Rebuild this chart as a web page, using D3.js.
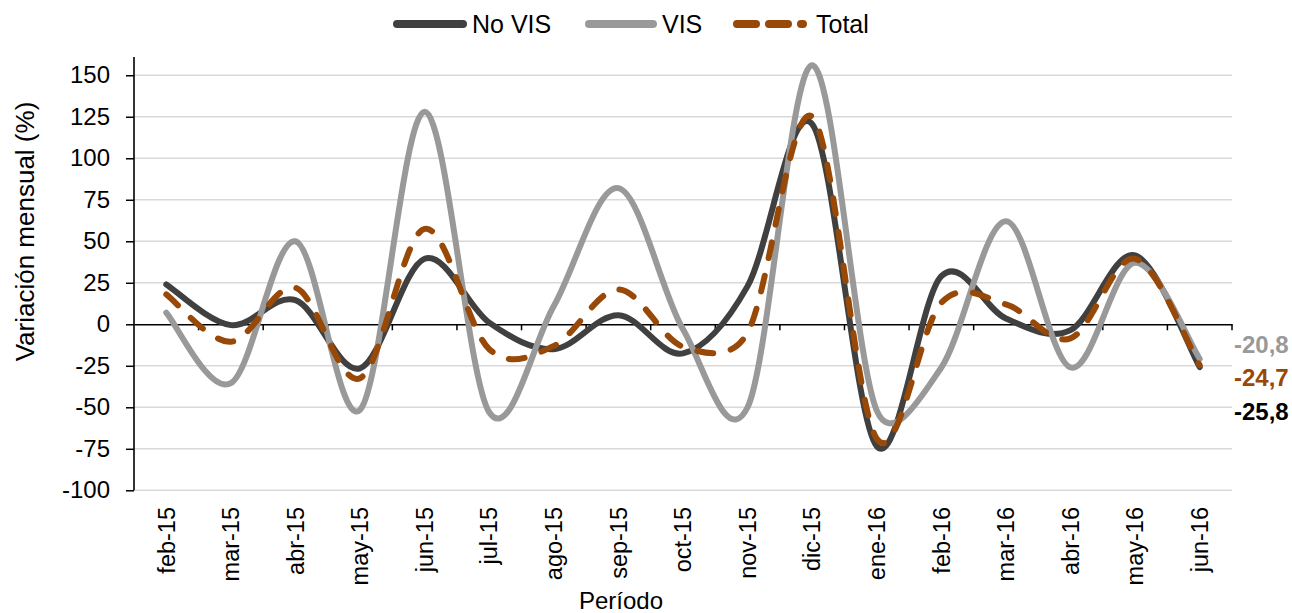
<!DOCTYPE html>
<html>
<head>
<meta charset="utf-8">
<script src="https://cdn.jsdelivr.net/npm/d3@7"></script>
<style>
  html, body { margin: 0; padding: 0; background: #fff; }
  svg { display: block; font-family: "Liberation Sans", Arial, sans-serif; }
</style>
</head>
<body>
<svg id="chart" width="1292" height="613"></svg>
<script>
// ---- Data ----
const categories = ["feb-15","mar-15","abr-15","may-15","jun-15","jul-15","ago-15","sep-15","oct-15","nov-15","dic-15","ene-16","feb-16","mar-16","abr-16","may-16","jun-16"];
const noVis = [24, -0.5, 14.5, -26.5, 39.5, 1, -15, 5.5, -17.5, 23, 120.5, -73.5, 29, 3.5, -3.5, 41.5, -25.8];
const vis   = [7, -35.5, 50, -51.5, 128, -53, 11, 82, -3, -50, 156, -52, -26, 62, -26, 37, -20.8];
const total = [18, -10.5, 22, -32.5, 57.5, -15, -13, 21, -13.5, -5, 125, -69, 13, 12, -8.5, 39.5, -24.7];
const yTicks = [-100, -75, -50, -25, 0, 25, 50, 75, 100, 125, 150];
const seriesNames = ["No VIS", "VIS", "Total"];

const series = [
  { name: seriesNames[0], values: noVis, color: "#404040", dash: null },
  { name: seriesNames[1], values: vis,   color: "#999999", dash: null },
  { name: seriesNames[2], values: total, color: "#984807", dash: "16 18" }
];

// ---- Excel-like smoothed curve (custom d3 curve factory) ----
function ExcelSmooth(context) { this._context = context; }
ExcelSmooth.prototype = {
  areaStart() { this._line = 0; },
  areaEnd() { this._line = NaN; },
  lineStart() { this._pts = []; },
  point(x, y) { this._pts.push([+x, +y]); },
  lineEnd() {
    const p = this._pts, n = p.length, c = this._context;
    if (!n) return;
    c.moveTo(p[0][0], p[0][1]);
    const dist = (a, b) => Math.hypot(b[0] - a[0], b[1] - a[1]);
    for (let i = 0; i < n - 1; i++) {
      const P0 = p[Math.max(0, i - 1)], P1 = p[i], P2 = p[i + 1], P3 = p[Math.min(n - 1, i + 2)];
      const d12 = dist(P1, P2), d02 = dist(P0, P2), d13 = dist(P1, P3);
      let f1 = 1 / 6, f2 = 1 / 6;
      if (d02 / 6 > d12 / 2) f1 = d12 / (2 * d02);
      if (d13 / 6 > d12 / 2) f2 = d12 / (2 * d13);
      const c1 = [P1[0] + (P2[0] - P0[0]) * f1, P1[1] + (P2[1] - P0[1]) * f1];
      const c2 = [P2[0] - (P3[0] - P1[0]) * f2, P2[1] - (P3[1] - P1[1]) * f2];
      c.bezierCurveTo(c1[0], c1[1], c2[0], c2[1], P2[0], P2[1]);
    }
  }
};
const curveExcel = context => new ExcelSmooth(context);

// ---- Layout ----
const svg = d3.select("#chart");
const plotL = 134, plotR = 1232, plotT = 57, plotB = 490.3;

const x = d3.scaleBand().domain(categories).range([plotL, plotR]).padding(0);
const cx = c => x(c) + x.bandwidth() / 2;
const y = d3.scaleLinear().domain([-100, 161]).range([plotB, plotT]);

// gridlines
svg.append("g").selectAll("line").data(yTicks.filter(v => v !== 0)).join("line")
  .attr("x1", plotL).attr("x2", plotR)
  .attr("y1", d => y(d)).attr("y2", d => y(d))
  .attr("stroke", "#d9d9d9").attr("stroke-width", 1.4);

// y axis
const yAxis = d3.axisLeft(y).tickValues(yTicks).tickSize(8).tickPadding(16).tickFormat(d => String(d));
const gy = svg.append("g").attr("transform", `translate(${plotL},0)`).call(yAxis);
gy.select(".domain").remove();
gy.selectAll(".tick line").attr("stroke", "#000").attr("stroke-width", 1.5);
gy.selectAll(".tick text").attr("font-size", 24).attr("fill", "#000")
  .attr("font-family", "'Liberation Sans', Arial, sans-serif");
svg.append("line").attr("x1", plotL).attr("x2", plotL).attr("y1", plotT).attr("y2", plotB)
  .attr("stroke", "#000").attr("stroke-width", 1.6);

// x axis at zero
const xAxis = d3.axisBottom(x).tickSize(0).tickFormat("");
const gx = svg.append("g").attr("transform", `translate(0,${y(0)})`).call(xAxis);
gx.select(".domain").attr("stroke", "#000").attr("stroke-width", 1.6);
gx.selectAll(".tick").remove();
gx.selectAll(".bnd").data(categories).join("line").attr("class", "bnd")
  .attr("x1", d => x(d) + x.bandwidth()).attr("x2", d => x(d) + x.bandwidth())
  .attr("y1", 0).attr("y2", 6).attr("stroke", "#000").attr("stroke-width", 1.5);

// category labels
svg.append("g").selectAll("text").data(categories).join("text")
  .attr("transform", d => `translate(${cx(d)},507) rotate(-90)`)
  .attr("text-anchor", "end").attr("dy", "0.35em")
  .attr("font-size", 23.5).attr("fill", "#000")
  .text(d => d);

// lines
const line = d3.line()
  .x((d, i) => cx(categories[i]))
  .y(d => y(d))
  .curve(curveExcel);

series.forEach(s => {
  const p = svg.append("path").datum(s.values)
    .attr("d", line)
    .attr("fill", "none")
    .attr("stroke", s.color)
    .attr("stroke-width", 6)
    .attr("stroke-linecap", "round")
    .attr("stroke-linejoin", "round");
  if (s.dash) p.attr("stroke-dasharray", s.dash);
});

// end labels
const fmt = v => d3.format(".1f")(v).replace(".", ",").replace("\u2212", "-");
const endLabels = [
  { v: vis[vis.length - 1], color: "#999999", yPos: 345 },
  { v: total[total.length - 1], color: "#984807", yPos: 378 },
  { v: noVis[noVis.length - 1], color: "#000000", yPos: 411.5 }
];
svg.append("g").selectAll("text").data(endLabels).join("text")
  .attr("x", 1234).attr("y", d => d.yPos).attr("dy", "0.35em")
  .attr("font-size", 24).attr("font-weight", "bold").attr("fill", d => d.color)
  .text(d => fmt(d.v));

// axis titles
svg.append("text")
  .attr("transform", "translate(25,231.5) rotate(-90)")
  .attr("text-anchor", "middle").attr("dy", "0.35em")
  .attr("font-size", 26).attr("fill", "#000")
  .text("Variación mensual (%)");
svg.append("text")
  .attr("x", 621).attr("y", 609)
  .attr("text-anchor", "middle")
  .attr("font-size", 24).attr("fill", "#000")
  .text("Período");

// legend
const lg = svg.append("g");
const legendItems = [
  { s: series[0], x1: 397, x2: 463, tx: 472 },
  { s: series[1], x1: 589, x2: 653, tx: 662 },
  { s: series[2], x1: 737, x2: 803, tx: 816 }
];
legendItems.forEach(it => {
  const l = lg.append("line").attr("x1", it.x1).attr("x2", it.x2).attr("y1", 24).attr("y2", 24)
    .attr("stroke", it.s.color).attr("stroke-width", 8).attr("stroke-linecap", "round");
  if (it.s.dash) l.attr("stroke-dasharray", "19 13");
  lg.append("text").attr("x", it.tx).attr("y", 33).attr("font-size", 25).attr("fill", "#000").text(it.s.name);
});
</script>
</body>
</html>
